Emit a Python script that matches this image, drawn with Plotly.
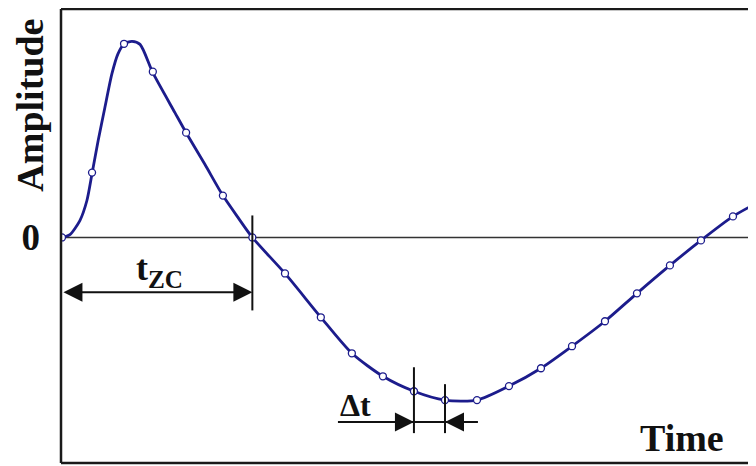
import plotly.graph_objects as go

# ---- data (time in sample units, amplitude normalised) ----
marker_time = [0, 0.94, 1.94, 2.84, 3.88, 5.03, 5.95, 6.97, 8.09, 9.06, 10.03, 11.0,
               11.97, 12.97, 13.97, 14.97, 15.94, 16.97, 17.97, 19.0, 19.97, 20.97]
marker_amp = [0, 0.33, 0.985, 0.843, 0.533, 0.213, 0, -0.183, -0.406, -0.589, -0.706, -0.782,
              -0.827, -0.827, -0.756, -0.665, -0.553, -0.426, -0.284, -0.142, -0.015, 0.107]

curve_time = [0, 0.25, 0.56, 0.78, 0.94, 1.13, 1.34, 1.56, 1.75, 1.94, 2.19, 2.44, 2.84,
              3.53, 3.88, 4.47, 5.03, 5.5, 5.95, 6.97, 8.09, 9.06, 10.03, 11.0, 11.97,
              12.97, 13.97, 14.97, 15.94, 16.97, 17.97, 19.0, 19.97, 20.97, 21.69]
curve_amp = [0, 0.015, 0.086, 0.188, 0.325, 0.492, 0.66, 0.832, 0.934, 0.985, 0.997, 0.982,
             0.838, 0.635, 0.533, 0.371, 0.213, 0.102, 0, -0.183, -0.406, -0.589, -0.706,
             -0.782, -0.827, -0.827, -0.756, -0.665, -0.553, -0.426, -0.284, -0.142,
             -0.015, 0.107, 0.173]

t_zc = 5.95           # zero-crossing time
dt_start = 11.0       # start of delta-t interval
dt_end = 11.97        # end of delta-t interval

y_tick_vals = [0]
y_tick_text = ["0"]

x_range = [-0.03, 21.69]
y_range = [-1.147, 1.162]

NAVY = "#1c1c8c"
INK = "#111111"
SERIF = "Liberation Serif"

fig = go.Figure()
fig.add_trace(go.Scatter(
    x=curve_time, y=curve_amp, mode="lines",
    line=dict(color=NAVY, width=2.8, shape="spline", smoothing=0.7),
    hoverinfo="skip", showlegend=False))
fig.add_trace(go.Scatter(
    x=marker_time, y=marker_amp, mode="markers",
    marker=dict(symbol="circle", size=7, color="white", line=dict(color=NAVY, width=1.3)),
    showlegend=False))

shapes = []
# frame: left, top, bottom
for x0, y0, x1, y1 in [(0, 0, 0, 1), (0, 1, 1, 1), (0, 0, 1, 0)]:
    shapes.append(dict(type="line", xref="paper", yref="paper", x0=x0, y0=y0, x1=x1, y1=y1,
                       line=dict(color="#1a1a1a", width=2.5)))
# zero line
shapes.append(dict(type="line", xref="paper", yref="y", x0=0, x1=1, y0=0, y1=0,
                   line=dict(color="#333333", width=1.5), layer="below"))
# vertical markers
shapes.append(dict(type="line", xref="x", yref="y", x0=t_zc, x1=t_zc, y0=0.112, y1=-0.371,
                   line=dict(color=INK, width=2)))
shapes.append(dict(type="line", xref="x", yref="y", x0=dt_start, x1=dt_start, y0=-0.66, y1=-0.995,
                   line=dict(color=INK, width=2)))
shapes.append(dict(type="line", xref="x", yref="y", x0=dt_end, x1=dt_end, y0=-0.746, y1=-0.995,
                   line=dict(color=INK, width=2)))
# delta-t horizontal line
y_dt = -0.939
shapes.append(dict(type="line", xref="x", yref="y", x0=dt_start - 2.375, x1=dt_end + 1.03,
                   y0=y_dt, y1=y_dt, line=dict(color=INK, width=2)))

y_tz = -0.279
annotations = [
    dict(x=t_zc, y=y_tz, ax=0, ay=y_tz, xref="x", yref="y", axref="x", ayref="y", text="",
         showarrow=True, arrowside="end+start", arrowhead=2, startarrowhead=2,
         arrowsize=1.9, startarrowsize=1.9, arrowwidth=2, arrowcolor=INK,
         standoff=0, startstandoff=0),
    dict(x=dt_start, y=y_dt, ax=dt_start - 2.375, ay=y_dt, xref="x", yref="y", axref="x", ayref="y",
         text="", showarrow=True, arrowhead=2, arrowsize=1.9, arrowwidth=2, arrowcolor=INK, standoff=0),
    dict(x=dt_end, y=y_dt, ax=dt_end + 1.03, ay=y_dt, xref="x", yref="y", axref="x", ayref="y",
         text="", showarrow=True, arrowhead=2, arrowsize=1.9, arrowwidth=2, arrowcolor=INK, standoff=0),
    dict(x=3.06, y=-0.168, xref="x", yref="y", text="<b>t<sub>ZC</sub></b>", showarrow=False,
         xanchor="center", yanchor="middle",
         font=dict(family=SERIF, size=36, color=INK)),
    dict(x=9.16, y=-0.853, xref="x", yref="y", text="<b>Δt</b>", showarrow=False,
         xanchor="center", yanchor="middle",
         font=dict(family=SERIF, size=32, color=INK)),
    dict(x=0.8935, y=0.055, xref="paper", yref="paper", text="<b>Time</b>", showarrow=False,
         xanchor="center", yanchor="middle",
         font=dict(family=SERIF, size=38, color=INK)),
    dict(x=0, y=0.787, xref="paper", yref="paper", xshift=-31, text="<b>Amplitude</b>",
         xanchor="center", yanchor="middle",
         textangle=-90, showarrow=False, font=dict(family=SERIF, size=38, color=INK)),
]

# the page body has an 8px margin, so the figure is sized/offset to compensate
fig.update_layout(
    width=748, height=458,
    margin=dict(l=53, r=0, t=1, b=3),
    paper_bgcolor="white", plot_bgcolor="white",
    shapes=shapes, annotations=annotations,
    xaxis=dict(range=x_range, showgrid=False, zeroline=False, showline=False,
               showticklabels=False, ticks=""),
    yaxis=dict(range=y_range, showgrid=False, zeroline=False, showline=False,
               tickvals=y_tick_vals, ticktext=y_tick_text, ticks="",
               tickfont=dict(family=SERIF, size=37, color=INK, weight="bold"),
               ticklabelstandoff=20),
    showlegend=False,
)

fig.write_html("out.html")
